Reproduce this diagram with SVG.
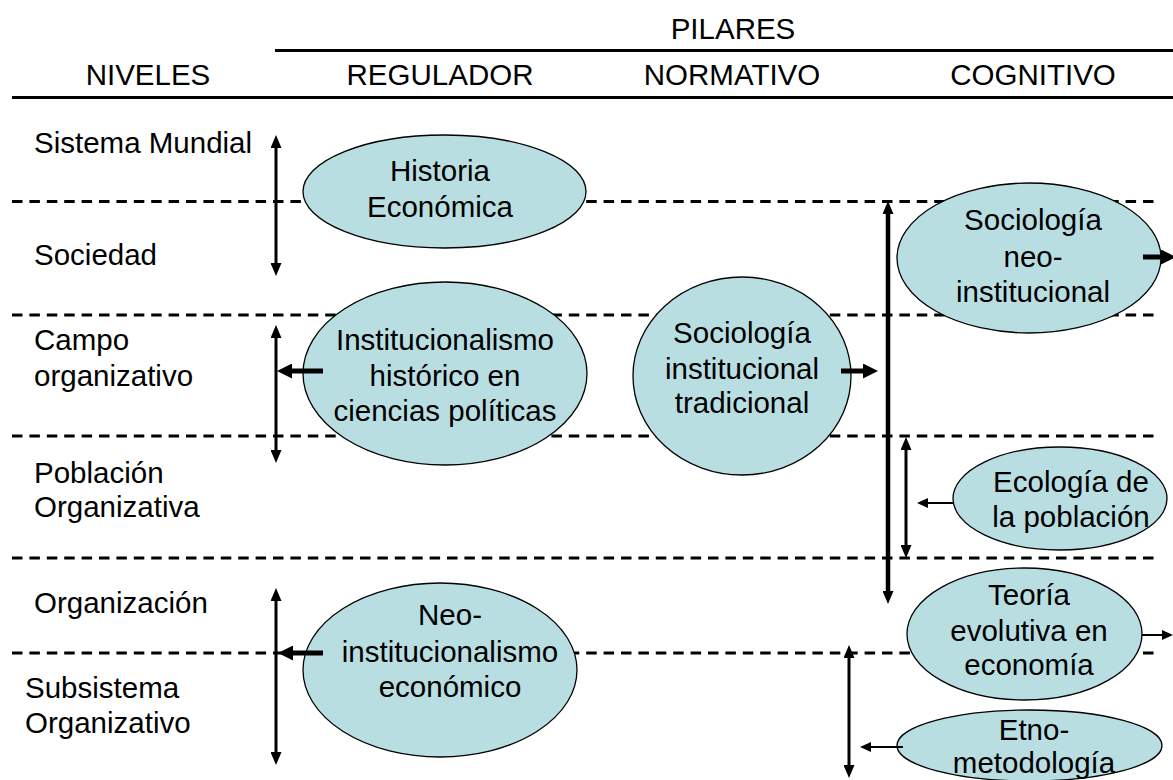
<svg xmlns="http://www.w3.org/2000/svg" width="1173" height="780" viewBox="0 0 1173 780">
<style>
text{font-family:"Liberation Sans",Arial,sans-serif;font-size:29.5px;fill:#000}
.c{text-anchor:middle}
.rule{stroke:#000;stroke-width:3}
.dash{stroke:#000;stroke-width:3;stroke-dasharray:10.5 6.9}
.node ellipse{fill:#B8DEE2;stroke:#000;stroke-width:1.3}
.v{stroke:#000;stroke-width:3;fill:none;marker-start:url(#mid);marker-end:url(#mid)}
.vt{stroke:#000;stroke-width:4.5;fill:none;marker-start:url(#mid);marker-end:url(#mid)}
.thick{stroke:#000;stroke-width:5;fill:none;marker-end:url(#big)}
.thin{stroke:#000;stroke-width:2;fill:none;marker-end:url(#small)}
</style>
<defs>
<marker id="big" markerUnits="userSpaceOnUse" markerWidth="15" markerHeight="15" refX="5" refY="7.5" orient="auto"><path d="M0,0 L15,7.5 L0,15 z" fill="#000"/></marker>
<marker id="mid" markerUnits="userSpaceOnUse" markerWidth="13" markerHeight="11" refX="4" refY="5.5" orient="auto-start-reverse"><path d="M0,0 L13,5.5 L0,11 z" fill="#000"/></marker>
<marker id="small" markerUnits="userSpaceOnUse" markerWidth="11" markerHeight="10" refX="3" refY="5" orient="auto"><path d="M0,0 L11,5 L0,10 z" fill="#000"/></marker>
</defs>
<rect width="1173" height="780" fill="#fff"/>
<g id="header">
<text class="c" x="733" y="39">PILARES</text>
<line class="rule" x1="275" y1="50.5" x2="1173" y2="50.5"/>
<text class="c" x="148" y="85">NIVELES</text>
<text class="c" x="440" y="85">REGULADOR</text>
<text class="c" x="732" y="85">NORMATIVO</text>
<text class="c" x="1033" y="85">COGNITIVO</text>
<line class="rule" x1="12" y1="97.5" x2="1173" y2="97.5"/>
</g>
<g id="levels">
<line class="dash" x1="12" y1="201.5" x2="1157" y2="201.5"/>
<line class="dash" x1="12" y1="315" x2="1157" y2="315"/>
<line class="dash" x1="12" y1="436" x2="1157" y2="436"/>
<line class="dash" x1="12" y1="558" x2="1157" y2="558"/>
<line class="dash" x1="12" y1="653" x2="1157" y2="653"/>
<text x="34" y="153">Sistema Mundial</text>
<text x="34" y="265">Sociedad</text>
<text x="34" y="350">Campo</text>
<text x="34" y="386">organizativo</text>
<text x="34" y="483">Población</text>
<text x="34" y="517">Organizativa</text>
<text x="34" y="613">Organización</text>
<text x="25" y="698">Subsistema</text>
<text x="25" y="733">Organizativo</text>
</g>
<g id="n-historia" class="node">
<ellipse cx="444.5" cy="191.5" rx="141.5" ry="56.5"/>
<text class="c" x="440" y="181">Historia</text>
<text class="c" x="440" y="217">Económica</text>
</g>
<g id="n-inst-hist" class="node">
<ellipse cx="445" cy="373.5" rx="142" ry="91.5"/>
<text class="c" x="445" y="350">Institucionalismo</text>
<text class="c" x="445" y="386">histórico en</text>
<text class="c" x="445" y="421">ciencias políticas</text>
</g>
<g id="n-neo-econ" class="node">
<ellipse cx="440" cy="670" rx="137" ry="87"/>
<text class="c" x="450" y="625">Neo-</text>
<text class="c" x="450" y="662">institucionalismo</text>
<text class="c" x="450" y="697">económico</text>
</g>
<g id="n-soc-trad" class="node">
<ellipse cx="742" cy="376" rx="109" ry="99"/>
<text class="c" x="742" y="343">Sociología</text>
<text class="c" x="742" y="379">institucional</text>
<text class="c" x="742" y="413">tradicional</text>
</g>
<g id="n-soc-neo" class="node">
<ellipse cx="1029" cy="258" rx="132" ry="75"/>
<text class="c" x="1033" y="230">Sociología</text>
<text class="c" x="1033" y="267">neo-</text>
<text class="c" x="1033" y="302">institucional</text>
</g>
<g id="n-ecologia" class="node">
<ellipse cx="1060" cy="498.5" rx="107" ry="51.5"/>
<text class="c" x="1071" y="492">Ecología de</text>
<text class="c" x="1071" y="527">la población</text>
</g>
<g id="n-teoria" class="node">
<ellipse cx="1024.5" cy="634" rx="117.5" ry="66"/>
<text class="c" x="1029" y="605">Teoría</text>
<text class="c" x="1029" y="641">evolutiva en</text>
<text class="c" x="1029" y="675">economía</text>
</g>
<g id="n-etno" class="node">
<ellipse cx="1029.5" cy="745.5" rx="132.5" ry="35.5"/>
<text class="c" x="1034" y="740">Etno-</text>
<text class="c" x="1034" y="773">metodología</text>
</g>
<g id="connectors">
<line class="v" x1="276" y1="144" x2="276" y2="267"/>
<line class="v" x1="276" y1="334" x2="276" y2="454"/>
<line class="v" x1="276" y1="597" x2="276" y2="756"/>
<line class="thick" x1="323" y1="371" x2="287" y2="371"/>
<line class="thick" x1="323" y1="653" x2="288" y2="653"/>
<line class="vt" x1="888" y1="210" x2="888" y2="595"/>
<line class="thick" x1="841" y1="371" x2="868" y2="371"/>
<line class="thick" x1="1143" y1="257" x2="1166" y2="257"/>
<line class="v" x1="906" y1="446" x2="906" y2="549"/>
<line class="thin" x1="953" y1="503" x2="925" y2="503"/>
<line class="thin" x1="1142" y1="635" x2="1165" y2="635"/>
<line class="v" x1="849" y1="654" x2="849" y2="769"/>
<line class="thin" x1="903" y1="747" x2="868" y2="747"/>
</g>
</svg>
